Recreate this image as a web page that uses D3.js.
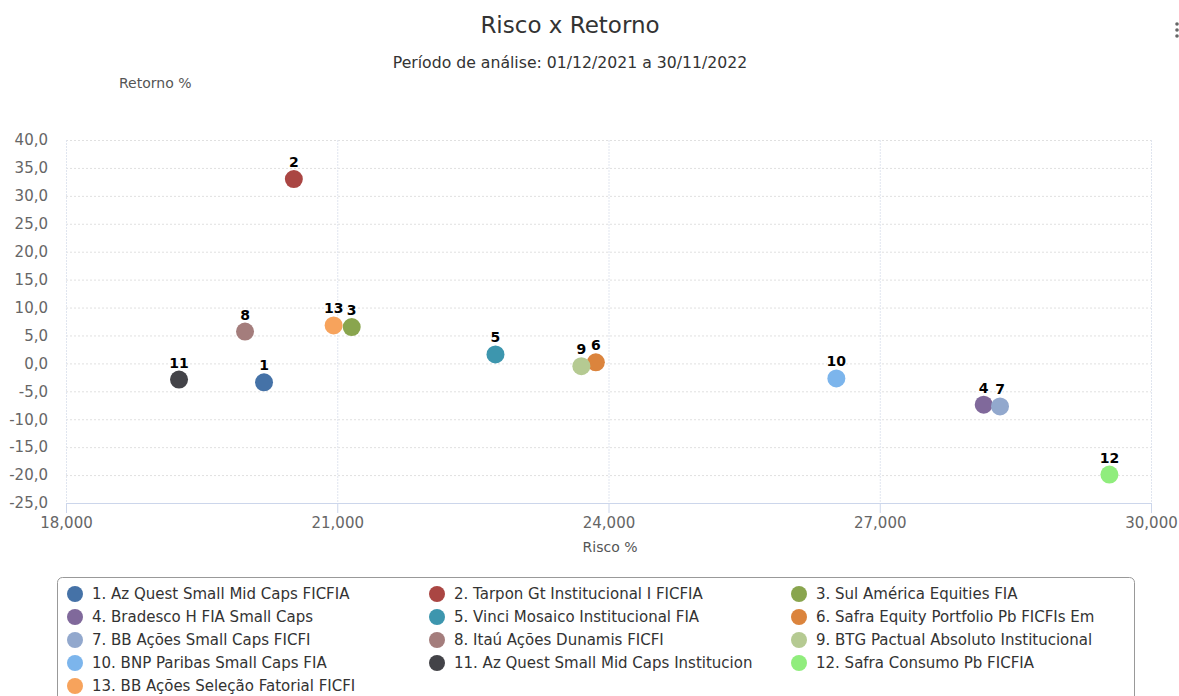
<!DOCTYPE html>
<html><head><meta charset="utf-8">
<script src="https://cdn.jsdelivr.net/npm/d3@7/dist/d3.min.js"></script>
<style>
body{margin:0;background:#fff;}
text{font-family:"DejaVu Sans","Open Sans",sans-serif;}
</style></head>
<body><svg id="c" width="1179" height="696"></svg>
<script>
const ids = [1,2,3,4,5,6,7,8,9,10,11,12,13];
const names = ["Az Quest Small Mid Caps FICFIA","Tarpon Gt Institucional I FICFIA","Sul América Equities FIA","Bradesco H FIA Small Caps","Vinci Mosaico Institucional FIA","Safra Equity Portfolio Pb FICFIs Em","BB Ações Small Caps FICFI","Itaú Ações Dunamis FICFI","BTG Pactual Absoluto Institucional","BNP Paribas Small Caps FIA","Az Quest Small Mid Caps Institucion","Safra Consumo Pb FICFIA","BB Ações Seleção Fatorial FICFI"];
const risco = [20.19,20.52,21.16,28.15,22.75,23.86,28.33,19.98,23.70,26.52,19.25,29.54,20.96];
const retorno = [-3.4,33.0,6.5,-7.4,1.6,0.2,-7.7,5.7,-0.5,-2.7,-2.9,-19.9,6.8];
const colors = ["#4572A7","#AA4643","#89A54E","#80699B","#3D96AE","#DB843D","#92A8CD","#A47D7C","#B5CA92","#7cb5ec","#434348","#90ed7d","#f7a35c"];
const xTicks = [18,21,24,27,30];
const xTickLabels = ["18,000","21,000","24,000","27,000","30,000"];
const yTicks = [40,35,30,25,20,15,10,5,0,-5,-10,-15,-20,-25];
const yTickLabels = ["40,0","35,0","30,0","25,0","20,0","15,0","10,0","5,0","0,0","-5,0","-10,0","-15,0","-20,0","-25,0"];

const svg = d3.select("#c");
const L=66,R=1151,T=140,B=503;
const x = d3.scaleLinear().domain([18,30]).range([L,R]);
const y = d3.scaleLinear().domain([-25,40]).range([B,T]);

// titles
svg.append("text").attr("x",570).attr("y",33).attr("text-anchor","middle").attr("font-size",23)
  .attr("font-family","Open Sans, sans-serif").attr("fill","#333").text("Risco x Retorno");
svg.append("text").attr("x",570).attr("y",68).attr("text-anchor","middle").attr("font-size",15.7)
  .attr("font-family","Open Sans, sans-serif").attr("fill","#333").text("Período de análise: 01/12/2021 a 30/11/2022");
svg.append("text").attr("x",119).attr("y",88).attr("font-size",14).attr("fill","#555").text("Retorno %");
// menu icon
svg.append("g").selectAll("circle").data([24,30,36]).join("circle")
  .attr("cx",1177).attr("cy",d=>d).attr("r",1.8).attr("fill","#666");

// grid
svg.append("g").selectAll("line").data(yTicks).join("line")
  .attr("x1",L).attr("x2",R).attr("y1",d=>y(d)+0.5).attr("y2",d=>y(d)+0.5)
  .attr("stroke","#e0e0e0").attr("stroke-dasharray","2,2");
svg.append("g").selectAll("line").data(xTicks).join("line")
  .attr("x1",d=>x(d)+0.5).attr("x2",d=>x(d)+0.5).attr("y1",T).attr("y2",B)
  .attr("stroke","#e0e5ef").attr("stroke-dasharray","2,1");

// y axis labels
const yAxis = d3.axisLeft(y).tickValues(yTicks).tickSize(0).tickPadding(18)
  .tickFormat((d,i)=>yTickLabels[i]);
const gy = svg.append("g").attr("transform",`translate(${L},0)`).call(yAxis);
gy.select(".domain").remove();
gy.selectAll("text").attr("font-size",15).attr("fill","#666").attr("font-family","DejaVu Sans, sans-serif");

// x axis
const xAxis = d3.axisBottom(x).tickValues(xTicks).tickSize(10).tickPadding(4)
  .tickFormat((d,i)=>xTickLabels[i]);
const gx = svg.append("g").attr("transform",`translate(0,${B})`).call(xAxis);
gx.select(".domain").attr("stroke","#ccd6eb").attr("d",`M${L},0.5H${R}`);
gx.selectAll(".tick line").attr("stroke","#ccd6eb");
gx.selectAll("text").attr("font-size",15).attr("fill","#666").attr("font-family","DejaVu Sans, sans-serif");
svg.append("text").attr("x",610).attr("y",552).attr("text-anchor","middle").attr("font-size",14).attr("fill","#555").text("Risco %");

// points
const pts = ids.map((id,i)=>({id,r:risco[i],v:retorno[i],c:colors[i]}));
svg.append("g").selectAll("circle").data(pts).join("circle")
  .attr("cx",d=>x(d.r)).attr("cy",d=>y(d.v)).attr("r",9).attr("fill",d=>d.c);
svg.append("g").selectAll("text").data(pts).join("text")
  .attr("x",d=>x(d.r)).attr("y",d=>y(d.v)-12).attr("text-anchor","middle")
  .attr("font-size",14).attr("font-weight","bold").attr("fill","#000")
  .attr("stroke","#fff").attr("stroke-width",2).attr("paint-order","stroke")
  .text(d=>d.id);

// legend
svg.append("rect").attr("x",57.5).attr("y",577.5).attr("width",1077).attr("height",130).attr("rx",5)
  .attr("fill","none").attr("stroke","#999");
const lg = svg.append("g").selectAll("g").data(pts).join("g")
  .attr("transform",(d,i)=>`translate(${75+362*(i%3)},${594+23*Math.floor(i/3)})`);
lg.append("circle").attr("r",8).attr("fill",d=>d.c);
lg.append("text").attr("x",17).attr("y",5).attr("font-size",15).attr("fill","#333")
  .text((d,i)=>`${d.id}. ${names[i]}`);
</script></body></html>
